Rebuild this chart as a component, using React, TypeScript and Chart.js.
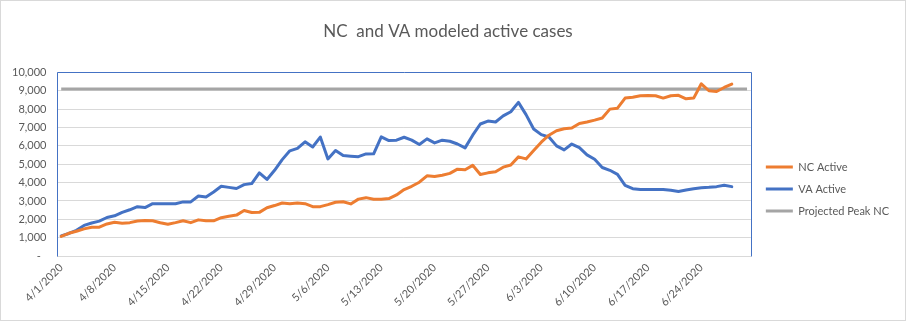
import React, { useEffect, useRef } from "react";
import { Chart, registerables } from "chart.js";

Chart.register(...registerables);

const startDate = new Date(2020, 3, 1);
const dayCount = 91;
const dates: string[] = Array.from({ length: dayCount }, (_, i) => {
  const d = new Date(startDate.getFullYear(), startDate.getMonth(), startDate.getDate() + i);
  return `${d.getMonth() + 1}/${d.getDate()}/${d.getFullYear()}`;
});

const ncActive: number[] = [
  1070, 1240, 1350, 1480, 1570, 1570, 1750, 1840, 1790, 1820,
  1910, 1930, 1920, 1810, 1730, 1820, 1920, 1820, 1970, 1920,
  1920, 2090, 2170, 2230, 2480, 2370, 2380, 2630, 2750, 2890,
  2850, 2890, 2850, 2690, 2690, 2800, 2930, 2960, 2840, 3100,
  3180, 3090, 3090, 3130, 3330, 3620, 3800, 4020, 4370, 4330,
  4400, 4500, 4730, 4700, 4940, 4440, 4530, 4590, 4840, 4960,
  5400, 5290, 5750, 6200, 6580, 6820, 6930, 6970, 7220, 7300,
  7400, 7520, 8000, 8050, 8600, 8650, 8730, 8740, 8730, 8600,
  8730, 8750, 8560, 8600, 9380, 9000, 8960, 9180, 9360,
];

const vaActive: number[] = [
  1100, 1230, 1400, 1670, 1800, 1900, 2100, 2190, 2380, 2520,
  2690, 2640, 2850, 2850, 2850, 2850, 2950, 2950, 3270, 3220,
  3490, 3800, 3740, 3680, 3890, 3950, 4530, 4170, 4670, 5250,
  5730, 5860, 6220, 5940, 6480, 5290, 5750, 5470, 5440, 5410,
  5560, 5570, 6490, 6290, 6310, 6470, 6310, 6070, 6380, 6160,
  6310, 6250, 6100, 5890, 6580, 7190, 7350, 7300, 7630, 7860,
  8370, 7700, 6920, 6610, 6480, 6000, 5780, 6100, 5900, 5510,
  5270, 4820, 4670, 4450, 3850, 3670, 3630, 3630, 3630, 3630,
  3580, 3520, 3600, 3670, 3720, 3740, 3780, 3850, 3780,
];

const projectedPeakValue = 9100;
const projectedPeakNC: number[] = dates.map(() => projectedPeakValue);

const yTicks: number[] = [0, 1000, 2000, 3000, 4000, 5000, 6000, 7000, 8000, 9000, 10000];

const FONT = "Lato, 'Liberation Sans', sans-serif";
const TEXT = "#595959";
const LEGEND_SHIFT = 4;

const plotBorder = {
  id: "plotBorder",
  afterDraw(chart: any) {
    const { ctx, chartArea } = chart;
    ctx.save();
    ctx.strokeStyle = "#4472C4";
    ctx.lineWidth = 1;
    ctx.beginPath();
    const l = Math.round(chartArea.left) + 0.5;
    const r = Math.round(chartArea.right) + 0.5;
    const t = Math.round(chartArea.top) + 0.5;
    const b = Math.round(chartArea.bottom) + 0.5;
    ctx.moveTo(l, b);
    ctx.lineTo(l, t);
    ctx.lineTo(r, t);
    ctx.lineTo(r, b);
    ctx.stroke();
    ctx.restore();
  },
};

const legendShift = {
  id: "legendShift",
  afterLayout(chart: any) {
    const lg = chart.legend;
    if (lg) {
      lg.left += LEGEND_SHIFT;
      lg.right += LEGEND_SHIFT;
    }
  },
};

const bgPlugin = {
  id: "bg",
  beforeDraw(chart: any) {
    const { ctx, width, height } = chart;
    ctx.save();
    ctx.fillStyle = "#ffffff";
    ctx.fillRect(0, 0, width, height);
    ctx.restore();
  },
};

export default function App() {
  const ref = useRef<HTMLCanvasElement | null>(null);

  useEffect(() => {
    document.body.style.margin = "0";
    const canvas = ref.current;
    if (!canvas) return;
    const chart = new Chart(canvas, {
      type: "line",
      data: {
        labels: dates,
        datasets: [
          {
            label: "NC Active",
            data: ncActive,
            borderColor: "#ED7D31",
            backgroundColor: "#ED7D31",
            borderWidth: 3,
            pointRadius: 0,
            tension: 0,
            borderJoinStyle: "round",
            borderCapStyle: "round",
          },
          {
            label: "VA Active",
            data: vaActive,
            borderColor: "#4472C4",
            backgroundColor: "#4472C4",
            borderWidth: 3,
            pointRadius: 0,
            tension: 0,
            borderJoinStyle: "round",
            borderCapStyle: "round",
          },
          {
            label: "Projected Peak NC",
            data: projectedPeakNC,
            borderColor: "#A5A5A5",
            backgroundColor: "#A5A5A5",
            borderWidth: 3,
            pointRadius: 0,
            tension: 0,
          },
        ],
      },
      options: {
        responsive: false,
        animation: false,
        events: [],
        layout: { padding: { left: 0, right: 10, top: 0, bottom: 6 } },
        plugins: {
          title: {
            display: true,
            text: "NC  and VA modeled active cases",
            color: TEXT,
            font: { family: FONT, size: 17, weight: "normal" },
            padding: { top: 20, bottom: 31 },
          },
          legend: {
            position: "right",
            title: {
              display: true,
              text: " ",
              font: { family: FONT, size: 11 },
              padding: { top: 0, bottom: 50 },
            },
            labels: {
              usePointStyle: true,
              pointStyle: "line",
              pointStyleWidth: 27,
              boxHeight: 3,
              padding: 11,
              color: TEXT,
              font: { family: FONT, size: 11 },
            },
          },
          tooltip: { enabled: false },
        },
        scales: {
          x: {
            offset: true,
            grid: { display: false, drawTicks: false },
            border: { display: true, color: "#D9D9D9" },
            afterFit: (axis: any) => {
              axis.paddingLeft = 0;
              axis.paddingRight = 0;
            },
            ticks: {
              autoSkip: false,
              maxRotation: 45,
              minRotation: 45,
              padding: 5,
              color: TEXT,
              font: { family: FONT, size: 11 },
              callback: (_v: any, i: number) => (i % 7 === 0 ? dates[i] : ""),
            },
          },
          y: {
            min: 0,
            max: 10000,
            afterBuildTicks: (axis: any) => {
              axis.ticks = yTicks.map((v) => ({ value: v }));
            },
            grid: { color: "#D9D9D9", drawTicks: false },
            border: { display: false },
            ticks: {
              autoSkip: false,
              padding: 11,
              color: TEXT,
              font: { family: FONT, size: 11 },
              callback: (v: any) => (Number(v) === 0 ? "-  " : Number(v).toLocaleString("en-US")),
            },
          },
        },
      },
      plugins: [bgPlugin, legendShift, plotBorder],
    });
    return () => chart.destroy();
  }, []);

  return (
    <div
      style={{
        position: "fixed",
        left: 0,
        top: 0,
        width: 906,
        height: 321,
        boxSizing: "border-box",
        border: "1px solid #D9D9D9",
        background: "#fff",
      }}
    >
      <canvas ref={ref} width={904} height={319} style={{ display: "block" }} />
    </div>
  );
}
